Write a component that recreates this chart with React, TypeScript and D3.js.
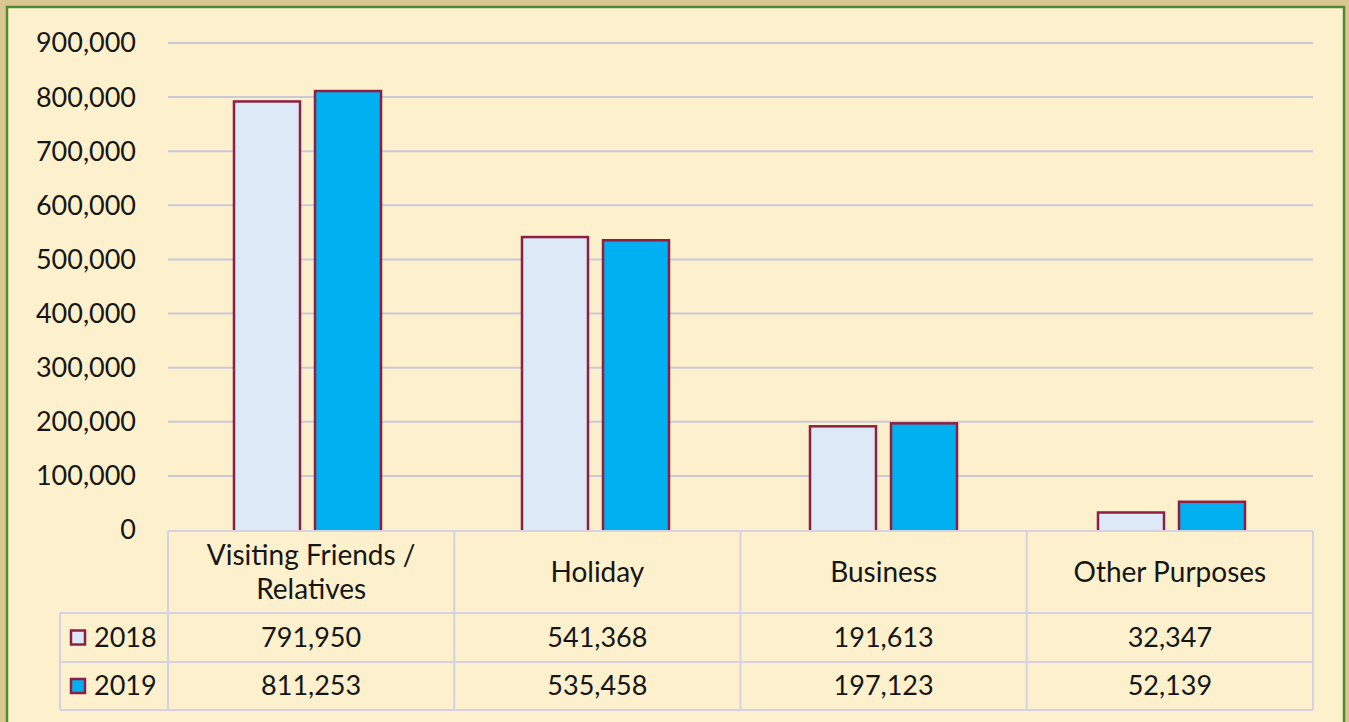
import React from "react";
import * as d3 from "d3";

const categories = ["Visiting Friends / Relatives", "Holiday", "Business", "Other Purposes"];
const categoryLines = [["Visiting Friends /", "Relatives"], ["Holiday"], ["Business"], ["Other Purposes"]];
const seriesNames = ["2018", "2019"];
const values2018 = [791950, 541368, 191613, 32347];
const values2019 = [811253, 535458, 197123, 52139];
const yTicks = [0, 100000, 200000, 300000, 400000, 500000, 600000, 700000, 800000, 900000];

const W = 1349;
const H = 722;
const FONT = "Lato, 'Open Sans', sans-serif";
const fills = ["#dde9f6", "#00b0f0"];
const stroke = "#8e1e42";
const lineCol = "#d7d1e4";
const textCol = "#161616";

export default function App() {
  const x0 = d3.scaleBand<string>().domain(categories).range([168, 1313]);
  const xBars = d3.scaleBand<string>().domain(categories).range([163.5, 1315.5]);
  const x1 = d3.scaleBand<string>().domain(seriesNames).range([0, 147]).paddingInner(15 / 81);
  const y = d3.scaleLinear().domain([0, 900000]).range([530, 43]);
  const fmt = d3.format(",");
  const series = [values2018, values2019];
  const groupOffset = (xBars.bandwidth() - 147) / 2;
  const rowY = [613, 662, 710];

  return (
    <svg width={W} height={H} style={{ position: "absolute", left: 0, top: 0 }} fontFamily={FONT}>
      <rect x={0} y={0} width={W} height={H} fill="#d9c690" />
      <rect x={7} y={7} width={1337} height={H + 10} fill="#fdf1cd" stroke="#4f8a30" strokeWidth={2.5} />
      {yTicks.map((t) => (
        <g key={t}>
          {t > 0 && (
            <line x1={168} x2={1313} y1={y(t)} y2={y(t)} stroke="#cbc8d8" strokeWidth={2} />
          )}
          <text x={136} y={y(t)} dy="0.35em" textAnchor="end" fontSize={27} fill={textCol}>
            {fmt(t)}
          </text>
        </g>
      ))}
      {categories.map((c, ci) => (
        <g key={c} transform={`translate(${(xBars(c) ?? 0) + groupOffset},0)`}>
          {seriesNames.map((s, si) => (
            <rect
              key={s}
              x={x1(s)}
              y={y(series[si][ci])}
              width={x1.bandwidth()}
              height={y(0) - y(series[si][ci]) + 4}
              fill={fills[si]}
              stroke={stroke}
              strokeWidth={2.5}
            />
          ))}
        </g>
      ))}
      <rect x={168} y={531} width={1145} height={rowY[0] - 531} fill="#fdf1cd" />
      <rect x={60} y={rowY[0]} width={1253} height={rowY[2] - rowY[0]} fill="#fdf1cd" />
      <line x1={168} x2={1313} y1={531} y2={531} stroke={lineCol} strokeWidth={2} />
      {rowY.map((ry) => (
        <line key={ry} x1={60} x2={1313} y1={ry} y2={ry} stroke={lineCol} strokeWidth={2} />
      ))}
      <line x1={60} x2={60} y1={rowY[0]} y2={rowY[2]} stroke={lineCol} strokeWidth={2} />
      {[...categories.map((c) => x0(c) ?? 0), 1313].map((vx, i) => (
        <line key={i} x1={vx} x2={vx} y1={531} y2={rowY[2]} stroke={lineCol} strokeWidth={2} />
      ))}
      {categories.map((c, ci) => {
        const cx = (x0(c) ?? 0) + x0.bandwidth() / 2;
        const lines = categoryLines[ci];
        const startY = lines.length === 1 ? 582 : 565;
        return (
          <g key={c}>
            {lines.map((ln, li) => (
              <text key={li} x={cx} y={startY + li * 34} textAnchor="middle" fontSize={28} fill={textCol}>
                {ln}
              </text>
            ))}
            {series.map((vals, si) => (
              <text
                key={si}
                x={cx}
                y={(rowY[si] + rowY[si + 1]) / 2}
                dy="0.35em"
                textAnchor="middle"
                fontSize={27}
                fill={textCol}
              >
                {fmt(vals[ci])}
              </text>
            ))}
          </g>
        );
      })}
      {seriesNames.map((s, si) => {
        const cy = (rowY[si] + rowY[si + 1]) / 2;
        return (
          <g key={s}>
            <rect x={71} y={cy - 7} width={14} height={14} fill={fills[si]} stroke={stroke} strokeWidth={2.5} />
            <text x={94} y={cy} dy="0.35em" fontSize={27} fill={textCol}>
              {s}
            </text>
          </g>
        );
      })}
    </svg>
  );
}
